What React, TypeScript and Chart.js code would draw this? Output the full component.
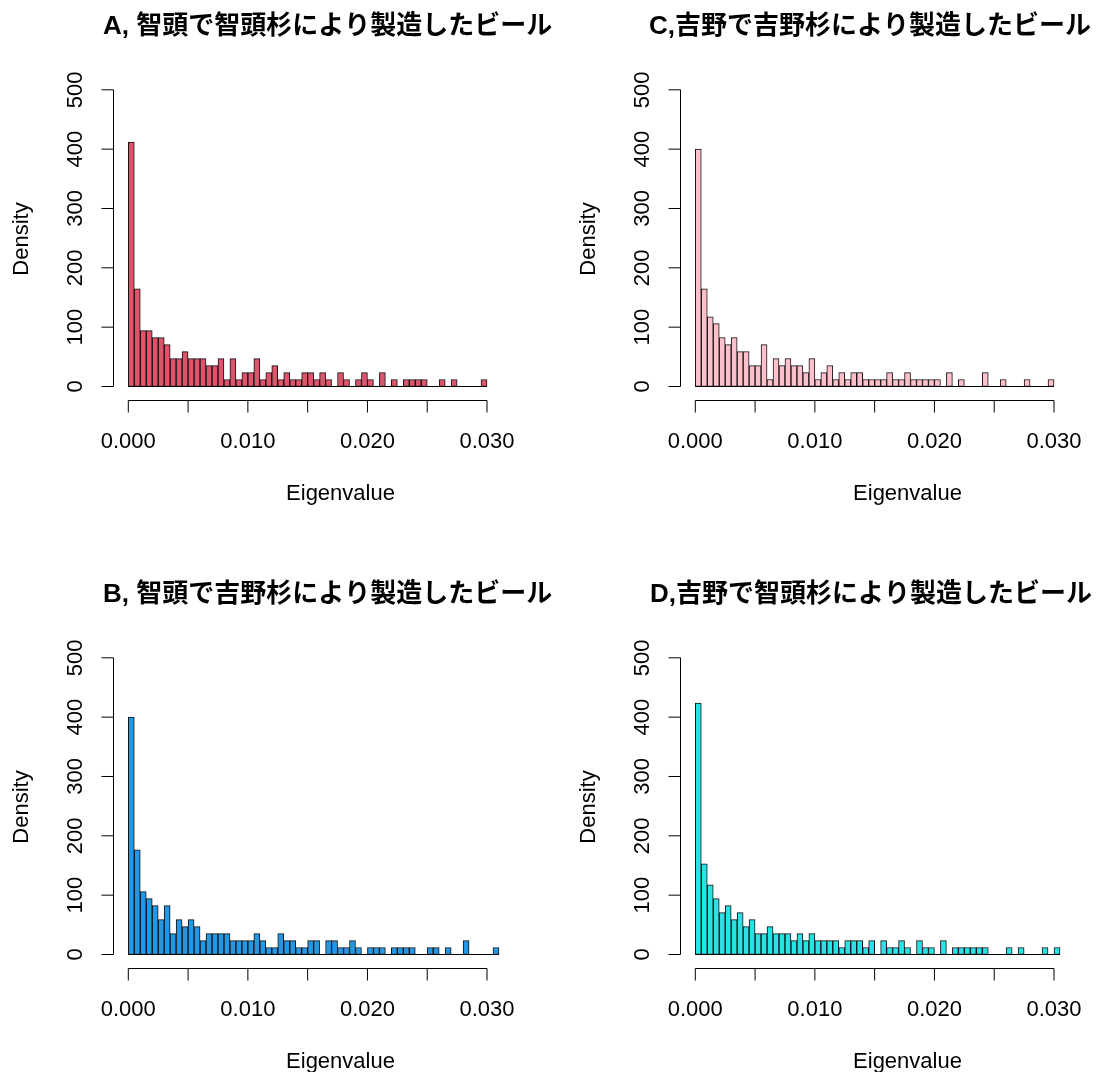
import React, { useEffect, useRef } from "react";
import { Chart, registerables } from "chart.js";

Chart.register(...registerables);

// ---------- data ----------
const BIN_WIDTH = 0.0005;
const X_TICKS = [0, 0.005, 0.01, 0.015, 0.02, 0.025, 0.03];
const X_TICK_LABELS = ["0.000", "", "0.010", "", "0.020", "", "0.030"];
const Y_TICKS = [0, 100, 200, 300, 400, 500];
const Y_TICK_LABELS = ["0", "100", "200", "300", "400", "500"];
const X_LABEL = "Eigenvalue";
const Y_LABEL = "Density";

const titleA = "A, 智頭で智頭杉により製造したビール";
const titleB = "B, 智頭で吉野杉により製造したビール";
const titleC = "C,吉野で吉野杉により製造したビール";
const titleD = "D,吉野で智頭杉により製造したビール";

// density per bin (bins of width 0.0005 starting at 0)
const densityA = [
  411.8, 164.7, 94.1, 94.1, 82.4, 82.4, 70.6, 47.1, 47.1, 58.8,
  47.1, 47.1, 47.1, 35.3, 35.3, 47.1, 11.8, 47.1, 11.8, 23.5,
  23.5, 47.1, 11.8, 23.5, 35.3, 11.8, 23.5, 11.8, 11.8, 23.5,
  23.5, 11.8, 23.5, 11.8, 0, 23.5, 11.8, 0, 11.8, 23.5,
  11.8, 0, 23.5, 0, 11.8, 0, 11.8, 11.8, 11.8, 11.8,
  0, 0, 11.8, 0, 11.8, 0, 0, 0, 0, 11.8,
];
const densityB = [
  400.0, 176.5, 105.9, 94.1, 82.4, 58.8, 82.4, 35.3, 58.8, 47.1,
  58.8, 47.1, 23.5, 35.3, 35.3, 35.3, 35.3, 23.5, 23.5, 23.5,
  23.5, 35.3, 23.5, 11.8, 11.8, 35.3, 23.5, 23.5, 11.8, 11.8,
  23.5, 23.5, 0, 23.5, 23.5, 11.8, 11.8, 23.5, 11.8, 0,
  11.8, 11.8, 11.8, 0, 11.8, 11.8, 11.8, 11.8, 0, 0,
  11.8, 11.8, 0, 11.8, 0, 0, 23.5, 0, 0, 0,
  0, 11.8,
];
const densityC = [
  400.0, 164.7, 117.6, 105.9, 82.4, 70.6, 82.4, 58.8, 58.8, 35.3,
  35.3, 70.6, 11.8, 47.1, 35.3, 47.1, 35.3, 35.3, 23.5, 47.1,
  11.8, 23.5, 35.3, 11.8, 23.5, 11.8, 23.5, 23.5, 11.8, 11.8,
  11.8, 11.8, 23.5, 11.8, 11.8, 23.5, 11.8, 11.8, 11.8, 11.8,
  11.8, 0, 23.5, 0, 11.8, 0, 0, 0, 23.5, 0,
  0, 11.8, 0, 0, 0, 11.8, 0, 0, 0, 11.8,
];
const densityD = [
  423.5, 152.9, 117.6, 94.1, 70.6, 82.4, 58.8, 70.6, 47.1, 58.8,
  35.3, 35.3, 47.1, 35.3, 35.3, 35.3, 23.5, 35.3, 23.5, 35.3,
  23.5, 23.5, 23.5, 23.5, 11.8, 23.5, 23.5, 23.5, 11.8, 23.5,
  0, 23.5, 11.8, 11.8, 23.5, 11.8, 0, 23.5, 11.8, 11.8,
  0, 23.5, 0, 11.8, 11.8, 11.8, 11.8, 11.8, 11.8, 0,
  0, 0, 11.8, 0, 11.8, 0, 0, 0, 11.8, 0,
  11.8,
];

const colorA = "#DF536B";
const colorB = "#2297E6";
const colorC = "#FFC0CB";
const colorD = "#28E2E5";

// ---------- layout ----------
const PANEL_W = 567;
const PANEL_H = 568;
const PAD = { left: 114, right: 0, top: 78, bottom: 168 };
const X_MIN = -0.001196;
const X_MAX = 0.03669;
const Y_MIN = -22.75;
const Y_MAX = 519.9;

const AXIS_FONT = '22px "Liberation Sans", Arial, Helvetica, sans-serif';
const TITLE_FONT = 'bold 26px "Liberation Sans", "Noto Sans CJK JP", sans-serif';

const rStylePlugin = {
  id: "rStyle",
  afterDatasetsDraw(chart: any, _args: any, opts: any) {
    const { ctx, chartArea, scales } = chart;
    const xs = scales.x;
    const ys = scales.y;
    ctx.save();
    ctx.strokeStyle = "#000";
    ctx.fillStyle = "#000";
    ctx.lineWidth = 1;

    // baseline across all bins (R draws zero-height bins as lines)
    const y0 = ys.getPixelForValue(0);
    ctx.beginPath();
    ctx.moveTo(xs.getPixelForValue(0), y0);
    ctx.lineTo(xs.getPixelForValue(opts.nbins * BIN_WIDTH), y0);
    ctx.stroke();

    // y axis
    const ax = chartArea.left - 0.5;
    ctx.beginPath();
    ctx.moveTo(ax, ys.getPixelForValue(Y_TICKS[0]));
    ctx.lineTo(ax, ys.getPixelForValue(Y_TICKS[Y_TICKS.length - 1]));
    Y_TICKS.forEach((t) => {
      const py = ys.getPixelForValue(t);
      ctx.moveTo(ax, py);
      ctx.lineTo(ax - 12, py);
    });
    ctx.stroke();
    ctx.font = AXIS_FONT;
    ctx.textAlign = "center";
    ctx.textBaseline = "alphabetic";
    Y_TICKS.forEach((t, i) => {
      const py = ys.getPixelForValue(t);
      ctx.save();
      ctx.translate(82, py);
      ctx.rotate(-Math.PI / 2);
      ctx.fillText(Y_TICK_LABELS[i], 0, 0);
      ctx.restore();
    });

    // x axis
    const ay = chartArea.bottom + 0.5;
    ctx.beginPath();
    ctx.moveTo(xs.getPixelForValue(X_TICKS[0]), ay);
    ctx.lineTo(xs.getPixelForValue(X_TICKS[X_TICKS.length - 1]), ay);
    X_TICKS.forEach((t) => {
      const px = xs.getPixelForValue(t);
      ctx.moveTo(px, ay);
      ctx.lineTo(px, ay + 12);
    });
    ctx.stroke();
    X_TICKS.forEach((t, i) => {
      if (!X_TICK_LABELS[i]) return;
      ctx.fillText(X_TICK_LABELS[i], xs.getPixelForValue(t), 448);
    });

    // axis titles
    ctx.fillText(X_LABEL, (chartArea.left + chartArea.right) / 2, 500);
    ctx.save();
    ctx.translate(28, (chartArea.top + chartArea.bottom) / 2);
    ctx.rotate(-Math.PI / 2);
    ctx.fillText(Y_LABEL, 0, 0);
    ctx.restore();

    // main title
    ctx.font = TITLE_FONT;
    ctx.textAlign = "left";
    ctx.fillText(opts.title, opts.titleX, 34);

    ctx.restore();
  },
};

type PanelProps = {
  title: string;
  titleX: number;
  density: number[];
  color: string;
  left: number;
  top: number;
};

function Panel({ title, titleX, density, color, left, top }: PanelProps) {
  const ref = useRef<HTMLCanvasElement | null>(null);
  useEffect(() => {
    if (!ref.current) return;
    const points = density.map((d, i) => ({ x: (i + 0.5) * BIN_WIDTH, y: d }));
    const chart = new Chart(ref.current, {
      type: "bar",
      data: {
        datasets: [
          {
            data: points as any,
            backgroundColor: color,
            borderColor: "#111",
            borderWidth: 1,
            borderSkipped: false,
            barPercentage: 1,
            categoryPercentage: 1,
          },
        ],
      },
      options: {
        animation: false,
        responsive: false,
        devicePixelRatio: 1,
        layout: { padding: PAD },
        plugins: {
          legend: { display: false },
          tooltip: { enabled: false },
          title: { display: false },
          rStyle: { title, titleX, nbins: density.length },
        } as any,
        scales: {
          x: {
            type: "linear",
            display: false,
            offset: false,
            min: X_MIN,
            max: X_MAX,
            ticks: { stepSize: 0.005 },
            grid: { display: false, offset: false },
          },
          y: {
            type: "linear",
            display: false,
            min: Y_MIN,
            max: Y_MAX,
            grid: { display: false },
          },
        },
      },
      plugins: [rStylePlugin as any],
    });
    return () => chart.destroy();
  }, [title, titleX, density, color]);
  return (
    <canvas
      ref={ref}
      width={PANEL_W}
      height={PANEL_H}
      style={{ position: "absolute", left, top, width: PANEL_W, height: PANEL_H }}
    />
  );
}

export default function App() {
  return (
    <div
      style={{
        position: "absolute",
        left: 0,
        top: 0,
        width: 1112,
        height: 1072,
        overflow: "hidden",
        background: "#ffffff",
      }}
    >
      <Panel title={titleA} titleX={103} density={densityA} color={colorA} left={0} top={0} />
      <Panel title={titleC} titleX={82} density={densityC} color={colorC} left={567} top={0} />
      <Panel title={titleB} titleX={103} density={densityB} color={colorB} left={0} top={568} />
      <Panel title={titleD} titleX={83} density={densityD} color={colorD} left={567} top={568} />
    </div>
  );
}
